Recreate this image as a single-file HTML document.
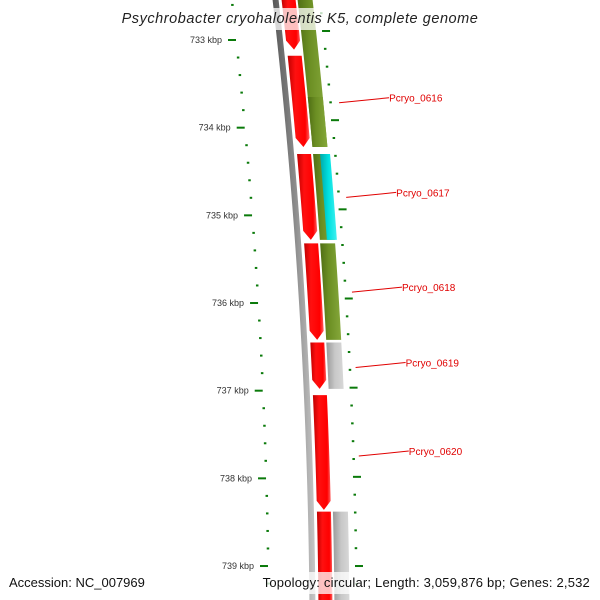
<!DOCTYPE html>
<html><head><meta charset="utf-8"><style>
html,body{margin:0;padding:0;background:#fff}
svg{display:block;font-family:"Liberation Sans","DejaVu Sans",sans-serif}
</style></head><body>
<svg id="chart" width="600" height="600" viewBox="0 0 600 600" xmlns="http://www.w3.org/2000/svg">
<defs>
<linearGradient id="gRed" x1="0" x2="1"><stop offset="0" stop-color="#c00000"/><stop offset="0.35" stop-color="#ff1010"/><stop offset="0.8" stop-color="#ff0000"/><stop offset="1" stop-color="#ff6060"/></linearGradient>
<linearGradient id="gOlive" x1="0" x2="1"><stop offset="0" stop-color="#4f6e14"/><stop offset="0.4" stop-color="#6b8e23"/><stop offset="1" stop-color="#85a83a"/></linearGradient>
<linearGradient id="gCyan" x1="0" x2="1"><stop offset="0" stop-color="#00a8a8"/><stop offset="0.5" stop-color="#00e0e0"/><stop offset="1" stop-color="#40f0f0"/></linearGradient>
<linearGradient id="gGray" x1="0" x2="1"><stop offset="0" stop-color="#999"/><stop offset="0.5" stop-color="#c8c8c8"/><stop offset="1" stop-color="#d8d8d8"/></linearGradient>
<linearGradient id="gBack" x1="0" x2="1"><stop offset="0" stop-color="#555"/><stop offset="0.5" stop-color="#888"/><stop offset="1" stop-color="#c8c8c8"/></linearGradient>
</defs>
<g id="tracks"></g>
<g id="ticks"></g>
<g id="labels"></g>
<rect x="120" y="8" width="360" height="22" fill="#fff" opacity="0.75"/>
<text x="300" y="23" text-anchor="middle" font-size="14.5" letter-spacing="0.55" font-style="italic" fill="#222">Psychrobacter cryohalolentis K5, complete genome</text>
<rect x="0" y="572" width="600" height="22" fill="#fff" opacity="0.75"/>
<text x="9" y="587" font-size="13" fill="#111">Accession: NC_007969</text>
<text x="590" y="587" text-anchor="end" font-size="13" letter-spacing="0.2" fill="#111">Topology: circular; Length: 3,059,876 bp; Genes: 2,532</text>
</svg>
<script>
// data (kbp positions)
const tickKbp = [733,734,735,736,737,738,739];
const fwdStart = [732.5,733.18,734.3,735.32,736.45,737.05,738.38];
const fwdEnd   = [733.11,734.22,735.28,736.42,736.98,738.36,739.5];
const revStart = [732.5,733.65,734.3,734.3,735.32,736.45,738.38];
const revEnd   = [734.22,734.22,735.28,735.28,736.42,736.98,739.5];
const revType  = ["olive","olive","olive","cyan","olive","gray","gray"];
const labelNames = ["Pcryo_0616","Pcryo_0617","Pcryo_0618","Pcryo_0619","Pcryo_0620"];
const labelKbp = [733.67,734.75,735.83,736.69,737.7];

const NS="http://www.w3.org/2000/svg";
function yOf(k){return 40+(k-733)*87.67;}
function sh(y){const t=(y-40)/526;return 56.2*t-24.2*t*t;}
function mk(tag,attrs,parent){const e=document.createElementNS(NS,tag);for(const a in attrs)e.setAttribute(a,attrs[a]);parent.appendChild(e);return e;}
const tracks=document.getElementById('tracks'),ticks=document.getElementById('ticks'),labels=document.getElementById('labels');

(function(){let pts=[],pts2=[];for(let y=-5;y<=605;y+=10){pts.push((277+sh(y))+','+y);pts2.unshift((283+sh(y))+','+y);}
const p=mk('polygon',{points:pts.concat(pts2).join(' '),fill:'url(#gBack)'},tracks);

})();

function band(y0,y1,x0,x1,arrow,fill,name){
  let pts=[],back=[];const step=8;
  const yb = arrow? y1-9 : y1;
  for(let y=y0;y<=yb;y+=step){pts.push((x1+sh(y))+','+y);back.unshift((x0+sh(y))+','+y);}
  pts.push((x1+sh(yb))+','+yb);back.unshift((x0+sh(yb))+','+yb);
  if(arrow){pts.push(((x0+x1)/2+sh(y1))+','+y1);}
  const p=mk('polygon',{points:pts.concat(back).join(' '),fill:fill},tracks);
  
  
}
for(let i=0;i<fwdStart.length;i++){
  const y0=Math.max(-5,yOf(fwdStart[i])),y1=Math.min(605,yOf(fwdEnd[i]));
  band(y0,y1,286,300,yOf(fwdEnd[i])<600,'url(#gRed)','forward-gene-'+(i+1));
}
for(let i=0;i<revStart.length;i++){
  const y0=Math.max(-5,yOf(revStart[i])),y1=Math.min(605,yOf(revEnd[i]));
  let x0=302,x1=317,f='url(#gOlive)';
  if(revType[i]==='cyan'){x0=309;x1=319;f='url(#gCyan)';}
  if(revType[i]==='gray'){f='url(#gGray)';}
  band(y0,y1,x0,x1,false,f,'reverse-gene-'+(i+1));
}
for(let k=732.6;k<=739.45;k+=0.2){
  const kk=Math.round(k*10)/10;
  const major=Math.abs(kk-Math.round(kk))<0.01;
  const y=yOf(kk);
  const x=236+sh(y);
  const t=mk('rect',{x:major?x-8:x-1,y:y-1,width:major?8:2.5,height:2,fill:'#0a7a0a'},ticks);
  
  
  const yr=y-9*(1-(y-40)/526);
  const xr=323+sh(yr);
  const t2=mk('rect',{x:xr,y:yr-1,width:major?8:2.5,height:2,fill:'#0a7a0a'},ticks);
  
  
}
tickKbp.forEach(k=>{const y=yOf(k);const x=222+sh(y);
  const t=mk('text',{x:x,y:y+3,'text-anchor':'end','font-size':'9',fill:'#333'},ticks);t.textContent=k+' kbp';
  
  });
labelNames.forEach((n,i)=>{const y=yOf(labelKbp[i]);const x=334+sh(y)*0.85;
  const l=mk('line',{x1:x,y1:y+4,x2:x+50,y2:y-1,stroke:'#e00000','stroke-width':'1'},labels);
  
  
  const t=mk('text',{x:x+50,y:y+3,'font-size':'10',fill:'#e00000'},labels);t.textContent=n;
  
  });
</script>
</body></html>
